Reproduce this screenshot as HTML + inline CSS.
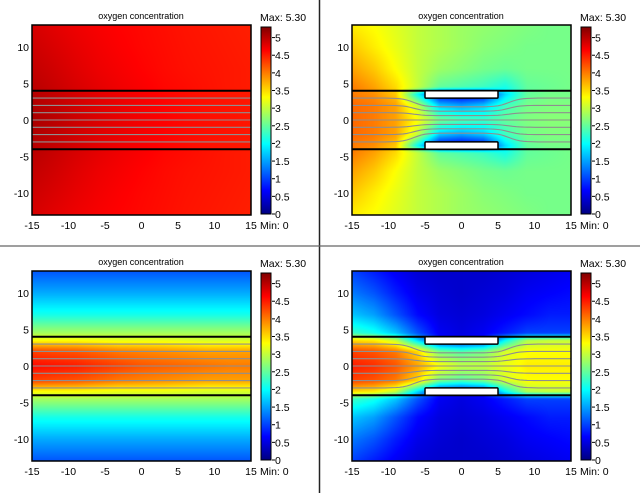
<!DOCTYPE html>
<html><head><meta charset="utf-8"><style>
html,body{margin:0;padding:0;background:#fff;width:640px;height:493px;overflow:hidden}
#wrap{position:relative;width:640px;height:493px}
canvas{position:absolute}
svg{position:absolute;left:0;top:0}
text{font-family:"Liberation Sans",sans-serif;fill:#000}
</style></head><body>
<div id="wrap">
<svg id="svg" width="640" height="493"></svg>
</div>
<script>
// grid columns (x) and rows (y, upper half incl. 0; lower half mirrored)
const gridX = [-15,-12,-9,-6,-3,0,3,6,9,12,15];
const gridYUpper = [13,10,7,4.5,3.5,2,0];
const xTicks = [-15,-10,-5,0,5,10,15];
const yTicks = [10,5,0,-5,-10];
const cbTicks = [0,0.5,1,1.5,2,2.5,3,3.5,4,4.5,5];
const cMax = 5.30;
const streamStarts = [3,2,1,0,-1,-2,-3];

const fieldA = [
 [4.85,4.78,4.72,4.67,4.63,4.6,4.57,4.54,4.52,4.5,4.48],
 [4.9,4.83,4.76,4.7,4.65,4.61,4.58,4.55,4.53,4.51,4.49],
 [4.95,4.88,4.8,4.73,4.68,4.63,4.59,4.56,4.54,4.52,4.5],
 [5.0,4.92,4.84,4.77,4.71,4.66,4.61,4.58,4.55,4.52,4.5],
 [5.02,4.94,4.86,4.78,4.72,4.67,4.62,4.58,4.55,4.53,4.51],
 [5.05,4.97,4.88,4.8,4.74,4.68,4.63,4.59,4.56,4.54,4.52],
 [5.08,5.0,4.9,4.82,4.75,4.69,4.64,4.6,4.57,4.55,4.52]];
const fieldB = [
 [3.4,3.3,3.15,3.0,2.9,2.8,2.75,2.7,2.65,2.6,2.6],
 [3.6,3.4,3.2,3.0,2.9,2.8,2.7,2.65,2.6,2.6,2.6],
 [3.8,3.6,3.3,3.0,2.8,2.7,2.6,2.55,2.6,2.6,2.6],
 [4.0,3.8,3.5,3.0,2.5,2.4,2.3,2.1,2.5,2.55,2.6],
 [4.0,3.9,3.6,2.0,0.6,0.5,0.6,1.8,2.5,2.6,2.6],
 [4.1,4.0,3.8,3.0,1.7,1.5,1.7,2.3,2.6,2.65,2.65],
 [4.1,4.0,3.8,3.3,2.6,2.4,2.3,2.5,2.65,2.7,2.7]];
const fieldC = [
 [1.1,1.1,1.1,1.1,1.1,1.1,1.1,1.1,1.1,1.1,1.1],
 [1.55,1.55,1.55,1.55,1.55,1.55,1.55,1.55,1.55,1.55,1.55],
 [2.1,2.1,2.1,2.1,2.1,2.1,2.1,2.1,2.1,2.1,2.1],
 [2.85,2.85,2.85,2.85,2.85,2.85,2.85,2.85,2.85,2.85,2.85],
 [3.3,3.3,3.3,3.25,3.2,3.2,3.2,3.15,3.1,3.1,3.1],
 [4.3,4.25,4.2,4.1,4.0,3.95,3.9,3.85,3.8,3.8,3.8],
 [4.6,4.55,4.5,4.4,4.3,4.2,4.15,4.1,4.05,4.0,4.0]];
const fieldD = [
 [1.0,0.8,0.6,0.45,0.4,0.4,0.4,0.45,0.5,0.55,0.6],
 [1.3,1.1,0.8,0.55,0.45,0.4,0.45,0.5,0.6,0.65,0.7],
 [1.7,1.5,1.1,0.7,0.5,0.45,0.5,0.6,0.7,0.8,0.8],
 [2.3,2.1,1.7,1.1,0.6,0.5,0.6,0.8,1.0,1.0,1.0],
 [3.5,3.4,3.0,1.8,0.8,0.7,0.8,2.0,2.9,3.0,3.0],
 [4.3,4.2,4.0,3.5,2.6,2.4,2.6,3.1,3.3,3.3,3.3],
 [4.5,4.4,4.2,3.8,3.3,3.0,3.0,3.2,3.4,3.4,3.4]];

const panels = [
 {name:'panel-top-left', ox:0, oy:0, field:fieldA, blocks:false},
 {name:'panel-top-right', ox:320, oy:0, field:fieldB, blocks:true},
 {name:'panel-bottom-left', ox:0, oy:246, field:fieldC, blocks:false},
 {name:'panel-bottom-right', ox:320, oy:246, field:fieldD, blocks:true}];

const PL=32, PR=251, PT=25, PB=215, CBL=261, CBR=271, CBT=27, CBB=214;
const NS='http://www.w3.org/2000/svg';
const svg=document.getElementById('svg');
const wrap=document.getElementById('wrap');
function sx(x){return PL+(x+15)/30*(PR-PL);}
function sy(y){return PT+(13-y)/26*(PB-PT);}
function cy(v){return CBB-v/cMax*(CBB-CBT);}
function jet(t){t=Math.max(0,Math.min(1,t));
 const f=(a)=>Math.max(0,Math.min(1,1.5-Math.abs(4*t-a)));
 return [f(3),f(2),f(1)].map(v=>Math.round(v*255));}
function mk(tag,attrs,parent){const e=document.createElementNS(NS,tag);for(const k in attrs)e.setAttribute(k,attrs[k]);(parent||svg).appendChild(e);return e;}
function seg(arr,v){for(let i=0;i<arr.length-1;i++){const a=arr[i],b=arr[i+1];if((v-a)*(v-b)<=0){return [i,(v-a)/(b-a)];}}return [arr.length-2,1];}

const rowsY = gridYUpper.concat(gridYUpper.slice(0,-1).reverse().map(v=>-v));
function fullField(f){return f.concat(f.slice(0,-1).reverse());}

const sepV=mk('line',{x1:319.5,y1:0,x2:319.5,y2:493,stroke:'#222','stroke-width':1.5});


const sepH=mk('line',{x1:0,y1:246,x2:640,y2:246,stroke:'#666','stroke-width':1.2});



panels.forEach(p=>{
 const F=fullField(p.field);
 const W=PR-PL, H=PB-PT;
 const cv=document.createElement('canvas');
 cv.width=W; cv.height=H;
 cv.style.left=(p.ox+PL)+'px'; cv.style.top=(p.oy+PT)+'px';
 
 
 wrap.insertBefore(cv,svg);
 const ctx=cv.getContext('2d'); const img=ctx.createImageData(W,H);
 for(let j=0;j<H;j++){const y=13-(j+0.5)/H*26; const [ri,rt]=seg(rowsY,y);
  for(let i=0;i<W;i++){const x=-15+(i+0.5)/W*30; const [ci,ct]=seg(gridX,x);
   const v=(F[ri][ci]*(1-ct)+F[ri][ci+1]*ct)*(1-rt)+(F[ri+1][ci]*(1-ct)+F[ri+1][ci+1]*ct)*rt;
   const c=jet(v/cMax); const k=(j*W+i)*4; img.data[k]=c[0];img.data[k+1]=c[1];img.data[k+2]=c[2];img.data[k+3]=255;}}
 ctx.putImageData(img,0,0);

 const g=mk('g',{transform:`translate(${p.ox},${p.oy})`});
 
 
 streamStarts.forEach(y0=>{
  let d='';
  for(let x=-15;x<=15.01;x+=0.5){
   let y=y0;
   if(p.blocks){const s=(t)=>1/(1+Math.exp(-t)); const w=s((x+6.5)*1.3)*s((6.5-x)*1.3); y=y0*(1-0.4*w);}
   d+=(d?'L':'M')+sx(x).toFixed(1)+','+sy(y).toFixed(1);}
  const sl=mk('path',{d:d,fill:'none',stroke:'#8f8f8f','stroke-width':1.1},g);
  
  
 });
 [4,-4].forEach(yy=>{const l=mk('line',{x1:sx(-15),x2:sx(15),y1:sy(yy),y2:sy(yy),stroke:'#000','stroke-width':2},g);
  
  });
 if(p.blocks){[[3,4],[-4,-3]].forEach(b=>{const r=mk('rect',{x:sx(-5),y:sy(b[1]),width:sx(5)-sx(-5),height:sy(b[0])-sy(b[1]),fill:'#fff',stroke:'#000','stroke-width':1.5,rx:1},g);
  
  });}
 const fr=mk('rect',{x:PL,y:PT,width:PR-PL,height:PB-PT,fill:'none',stroke:'#000','stroke-width':1.5},g);
 
 
 const t=mk('text',{x:141,y:19,'font-size':9,'text-anchor':'middle'},g); t.textContent='oxygen concentration';
 
 
 xTicks.forEach(v=>{const e=mk('text',{x:sx(v),y:229,'font-size':10.5,'text-anchor':'middle'},g);e.textContent=v;
  
  });
 yTicks.forEach(v=>{const e=mk('text',{x:29,y:sy(v)+4,'font-size':10.5,'text-anchor':'end'},g);e.textContent=v;
  
  });
 const gid='jet'+p.ox+'_'+p.oy;
 const lg=mk('linearGradient',{id:gid,x1:0,y1:1,x2:0,y2:0},g);
 for(let s=0;s<=8;s++){const c=jet(s/8);mk('stop',{offset:s/8,'stop-color':`rgb(${c})`},lg);}
 const cb=mk('rect',{x:CBL,y:CBT,width:CBR-CBL,height:CBB-CBT,fill:`url(#${gid})`,stroke:'#000','stroke-width':1},g);
 
 
 cbTicks.forEach(v=>{const ty=cy(v);
  mk('line',{x1:CBR+1,x2:CBR+4,y1:ty,y2:ty,stroke:'#000','stroke-width':1},g);
  const e=mk('text',{x:CBR+4,y:ty+4,'font-size':10.5},g);e.textContent=v;
  
  });
 const mx=mk('text',{x:260,y:21,'font-size':10.5},g);mx.textContent='Max: 5.30';
 
 
 const mn=mk('text',{x:260,y:229,'font-size':10.5},g);mn.textContent='Min: 0';
 
 
});
</script>
</body></html>
